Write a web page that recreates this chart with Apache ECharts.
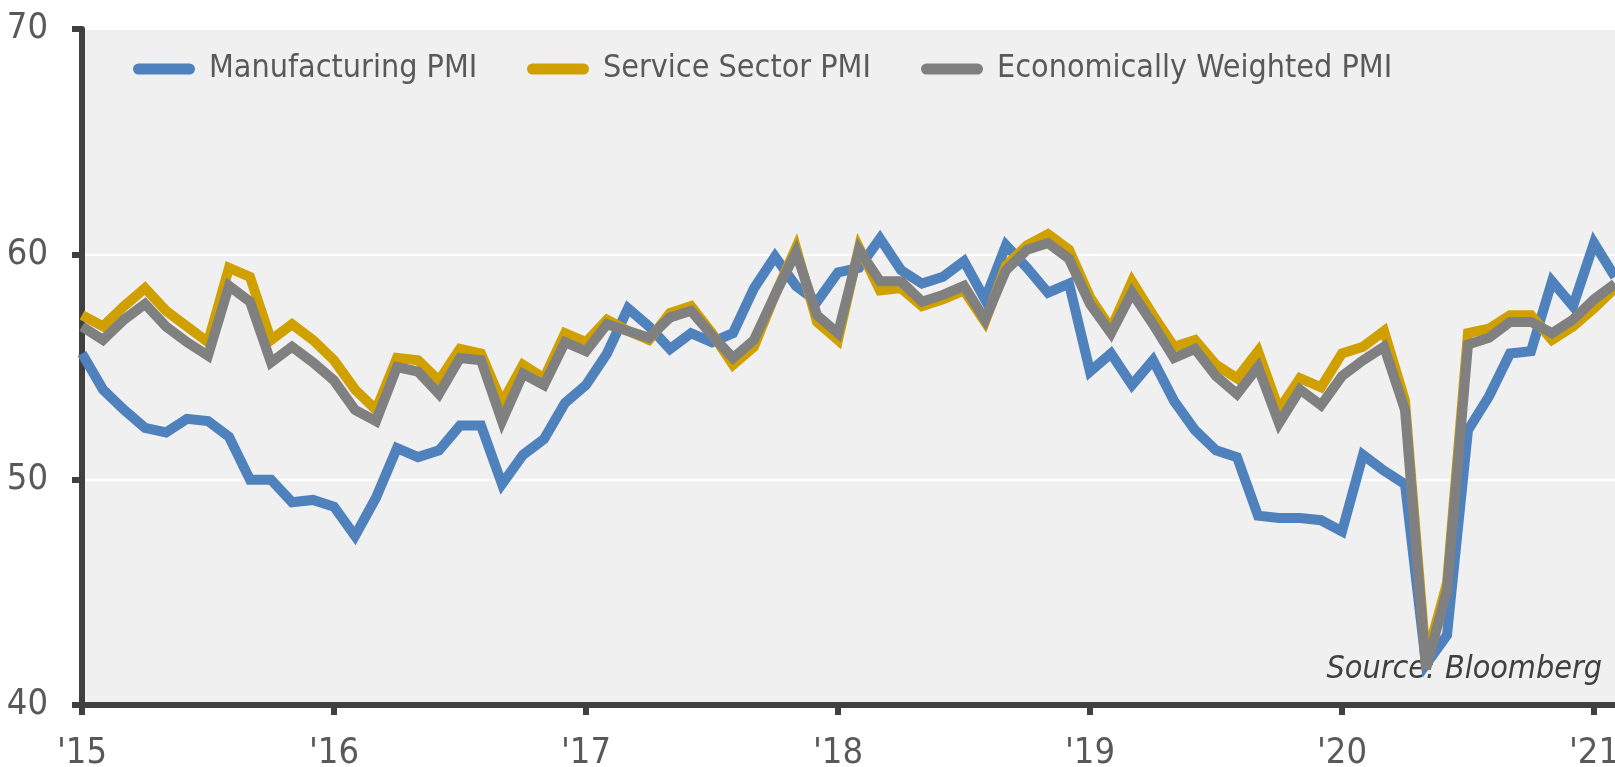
<!DOCTYPE html>
<html>
<head>
<meta charset="utf-8">
<title>PMI</title>
<script src="https://cdn.jsdelivr.net/npm/echarts@6/dist/echarts.min.js"></script>
<style>
    html, body { margin: 0; padding: 0; background: #fff; }
    #chart { width: 1615px; height: 767px; }
</style>
</head>
<body>
<div id="chart"></div>
<script>
// 月度数据 2015-01 ~ 2021-02
var years = ['15', '16', '17', '18', '19', '20', '21'];
var yTicks = [40, 50, 60, 70];

var manufacturing = [
    55.6, 54.0, 53.1, 52.3, 52.1, 52.7, 52.6, 51.9, 50.0, 50.0, 49.0, 49.1,
    48.8, 47.5, 49.2, 51.4, 51.0, 51.3, 52.4, 52.4, 49.8, 51.1, 51.8, 53.4,
    54.2, 55.6, 57.6, 56.8, 55.8, 56.5, 56.1, 56.5, 58.5, 59.9, 58.6, 57.9,
    59.2, 59.4, 60.7, 59.3, 58.7, 59.0, 59.7, 58.0, 60.4, 59.4, 58.3, 58.7,
    54.8, 55.6, 54.2, 55.3, 53.5, 52.2, 51.3, 51.0, 48.4, 48.3, 48.3, 48.2,
    47.7, 51.1, 50.4, 49.8, 41.8, 43.1, 52.2, 53.7, 55.6, 55.7, 58.8, 57.7,
    60.5, 59.0
];
var service = [
    57.3, 56.8, 57.7, 58.5, 57.5, 56.8, 56.1, 59.4, 59.0, 56.2, 56.9, 56.2,
    55.3, 54.0, 53.1, 55.4, 55.3, 54.4, 55.8, 55.6, 53.4, 55.1, 54.5, 56.5,
    56.1, 57.1, 56.6, 56.2, 57.4, 57.7, 56.5, 55.1, 55.9, 58.2, 60.3, 57.0,
    56.2, 60.3, 58.4, 58.5, 57.7, 58.0, 58.4, 57.0, 59.5, 60.4, 60.9, 60.2,
    58.1, 56.7, 58.8, 57.3, 55.9, 56.2, 55.1, 54.5, 55.7, 53.1, 54.5, 54.1,
    55.6, 55.9, 56.6, 53.5, 42.0, 45.4, 56.5, 56.7, 57.3, 57.3, 56.2, 56.8,
    57.6, 58.5
];
var weighted = [
    56.8, 56.2, 57.1, 57.8, 56.8, 56.1, 55.5, 58.6, 57.9, 55.2, 55.9, 55.2,
    54.4, 53.1, 52.6, 55.0, 54.8, 53.8, 55.4, 55.3, 52.6, 54.7, 54.2, 56.1,
    55.7, 56.9, 56.6, 56.3, 57.2, 57.5, 56.4, 55.4, 56.2, 58.2, 60.1, 57.3,
    56.5, 60.2, 58.8, 58.8, 57.9, 58.2, 58.6, 57.1, 59.3, 60.2, 60.5, 59.8,
    57.8, 56.5, 58.3, 56.9, 55.4, 55.8, 54.6, 53.8, 55.0, 52.5, 54.0, 53.3,
    54.6, 55.3, 55.9, 53.1, 41.6, 45.1, 56.0, 56.3, 57.0, 57.0, 56.5, 57.1,
    58.0, 58.7
];

var FONT = "'Liberation Sans Narrow', 'DejaVu Sans Condensed', 'Roboto', sans-serif";
var AXIS_COLOR = '#404040';
var TEXT_COLOR = '#595959';

// 类目: 每月一个, 一月显示年份
function buildMonths() {
    var arr = [];
    for (var i = 0; i < manufacturing.length; i++) {
        var y = years[Math.floor(i / 12)];
        arr.push(i % 12 === 0 ? "'" + y : y + '-' + (i % 12 + 1));
    }
    return arr;
}

var PILL = 'path://M5.5,0 H56.5 A5.5,5.5 0 0 1 56.5,11 H5.5 A5.5,5.5 0 0 1 5.5,0 Z';

function legendItem(name, left) {
    return {
        data: [name],
        left: left,
        top: 48,
        icon: PILL,
        itemWidth: 62,
        itemHeight: 11,
        selectedMode: false,
        textStyle: {
            fontFamily: FONT,
            fontSize: 32,
            color: TEXT_COLOR,
            padding: [0, 0, 0, 9]
        }
    };
}

function lineSeries(name, data, color) {
    return {
        name: name,
        type: 'line',
        data: data,
        showSymbol: false,
        symbol: 'none',
        animation: false,
        z: 3,
        color: color,
        lineStyle: { width: 10, color: color, join: 'miter', miterLimit: 4, cap: 'butt' }
    };
}

var chart = echarts.init(document.getElementById('chart'));
chart.setOption({
    animation: false,
    backgroundColor: '#ffffff',
    grid: {
        left: 82, right: 0, top: 29, bottom: 62,
        outerBoundsMode: 'none',
        containLabel: false,
        show: true, backgroundColor: '#f0f0f0', borderWidth: 0
    },
    legend: [
        legendItem('Manufacturing PMI', 128),
        legendItem('Service Sector PMI', 522),
        legendItem('Economically Weighted PMI', 916)
    ],
    xAxis: {
        type: 'category',
        data: buildMonths(),
        boundaryGap: false,
        axisLine: { lineStyle: { color: AXIS_COLOR, width: 6 } },
        axisTick: { interval: 11, length: 10, lineStyle: { color: AXIS_COLOR, width: 6 } },
        axisLabel: {
            interval: 11, margin: 31, hideOverlap: false,
            fontFamily: FONT, fontSize: 36, color: TEXT_COLOR
        },
        splitLine: { show: false }
    },
    yAxis: {
        type: 'value',
        min: yTicks[0], max: yTicks[yTicks.length - 1], interval: 10,
        axisLine: { show: true, lineStyle: { color: AXIS_COLOR, width: 6 } },
        axisTick: { show: true, length: 10, lineStyle: { color: AXIS_COLOR, width: 6 } },
        axisLabel: { margin: 34, fontFamily: FONT, fontSize: 36, color: TEXT_COLOR },
        splitLine: { lineStyle: { color: '#ffffff', width: 2 } }
    },
    graphic: [{
        type: 'text',
        right: 13,
        top: 654,
        z: 1,
        style: {
            text: 'Source: Bloomberg',
            fontFamily: FONT,
            fontStyle: 'italic',
            fontSize: 32,
            fill: AXIS_COLOR
        }
    }],
    series: [
        lineSeries('Manufacturing PMI', manufacturing, '#4f81bd'),
        lineSeries('Service Sector PMI', service, '#cfa000'),
        lineSeries('Economically Weighted PMI', weighted, '#808080')
    ]
});
</script>
</body>
</html>
